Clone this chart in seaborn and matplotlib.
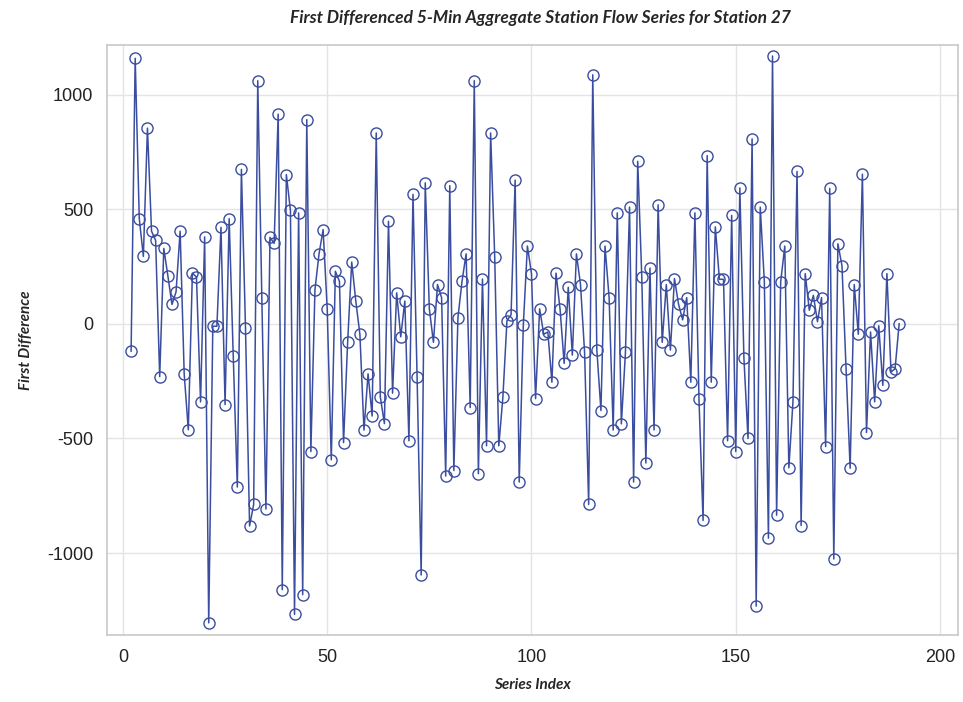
import numpy as np
import pandas as pd
import matplotlib
matplotlib.use("Agg")
import matplotlib.pyplot as plt
import seaborn as sns

start_index = 2
first_difference = [
    -120, 1160, 460, 295, 855, 405, 365, -230, 330, 210,
    85, 140, 405, -220, -462, 222, 205, -340, 380, -1305,
    -10, -10, 422, -352, 460, -140, -712, 675, -18, -882,
    -788, 1062, 113, -808, 378, 352, 916, -1160, 652, 496,
    -1268, 485, -1182, 892, -557, 150, 306, 412, 66, -593,
    230, 186, -518, -80, 270, 100, -45, -463, -218, -402,
    834, -318, -435, 448, -302, 136, -56, 100, -510, 566,
    -232, -1096, 616, 66, -80, 172, 115, -664, 604, -640,
    28, 186, 306, -365, 1062, -654, 196, -532, 834, 294,
    -532, -320, 15, 40, 628, -690, -6, 340, 220, -326,
    66, -45, -35, -254, 222, 64, -172, 160, -136, 306,
    172, -124, -788, 1088, -114, -378, 340, 115, -463, 485,
    -436, -124, 510, -690, 710, 206, -607, 244, -463, 520,
    -80, 172, -114, 198, 86, 18, 115, -254, 485, -328,
    -858, 735, -254, 424, 195, 195, -510, 474, -557, 594,
    -150, -500, 808, -1232, 510, 184, -935, 1170, -835, 184,
    340, -628, -340, 666, -880, 220, 60, 125, 10, 115,
    -535, 592, -1026, 350, 255, -195, -630, 172, -45, 654,
    -474, -35, -340, -8, -268, 220, -210, -195, 2,
]
series_index = list(range(start_index, start_index + len(first_difference)))

title_text = "First Differenced 5-Min Aggregate Station Flow Series for Station 27"
x_label = "Series Index"
y_label = "First Difference"
x_ticks = [0, 50, 100, 150, 200]
y_ticks = [-1000, -500, 0, 500, 1000]

df = pd.DataFrame({"Series Index": series_index, "First Difference": first_difference})

sns.set_style("white")
plt.rcParams["font.family"] = ["Liberation Sans", "DejaVu Sans"]
plt.rcParams["axes.unicode_minus"] = False

fig = plt.figure(figsize=(9.63, 7.02), dpi=100)
ax = fig.add_axes([107 / 963, 1 - 635 / 702, (958 - 107) / 963, (635 - 45) / 702])

line_color = "#3a4d9f"
sns.lineplot(data=df, x="Series Index", y="First Difference", ax=ax,
             color=line_color, linewidth=1.1, marker="o", markersize=8,
             markerfacecolor="none", markeredgecolor=line_color,
             markeredgewidth=1.0, zorder=3)

ax.set_xlim(-3.9, 204.4)
ax.set_ylim(-1358, 1218)
ax.set_xticks(x_ticks)
ax.set_yticks(y_ticks)
ax.grid(True, color="#e4e4e4", linewidth=1.0, zorder=0)
ax.set_axisbelow(True)
for s in ax.spines.values():
    s.set_color("#c8c8c8")
    s.set_linewidth(1.2)
ax.tick_params(axis="both", labelsize=13, colors="#333333", length=5,
               color="#888888", width=1, pad=5)
for lbl in ax.get_xticklabels() + ax.get_yticklabels():
    lbl.set_color("#222222")

ax.set_xlabel(x_label, fontsize=11, fontweight="bold", fontstyle="italic",
              family=["Lato", "DejaVu Sans"], labelpad=9)
ax.set_ylabel(y_label, fontsize=11, fontweight="bold", fontstyle="italic",
              family=["Lato", "DejaVu Sans"], labelpad=10)
fig.text(540 / 963, 1 - 18 / 702, title_text, ha="center", va="center",
         fontsize=12.5, fontweight="bold", fontstyle="italic",
         family=["Lato", "DejaVu Sans"])

fig.savefig("out.png", dpi=100)
